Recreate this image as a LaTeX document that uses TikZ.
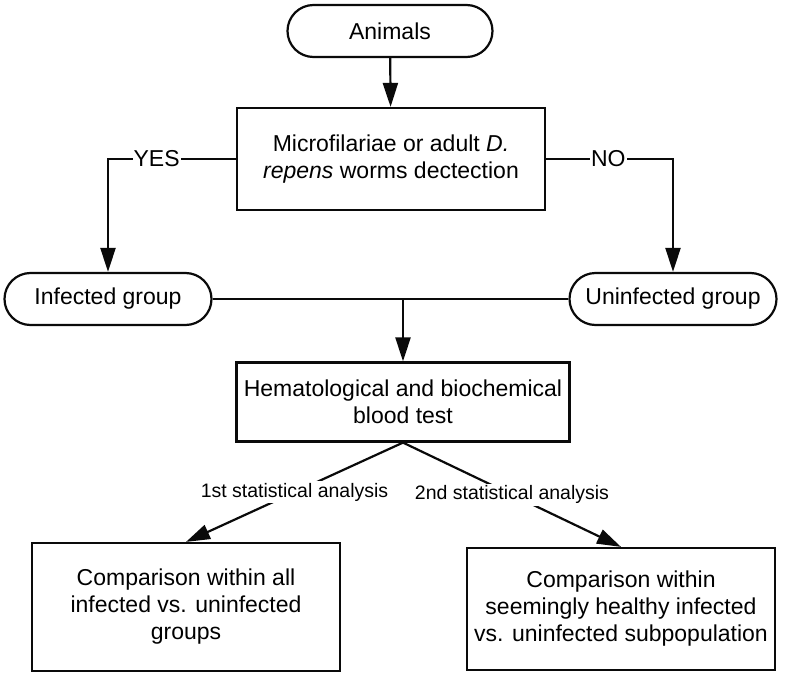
\documentclass[tikz,border=0pt]{standalone}
\usepackage{fontspec}
\setmainfont{Liberation Sans}
\usepackage{tikz}
\usetikzlibrary{arrows.meta, positioning, calc}
\definecolor{flowblack}{RGB}{10, 10, 10}

\begin{document}
\begin{tikzpicture}[x=1pt, y=-1pt, line width=2.2pt, draw=flowblack,
    flowarrow/.style={-{Triangle[length=24pt, width=15pt]}},
    terminal/.style={draw, rounded corners=26pt, minimum height=52pt, inner sep=0pt,
        font=\fontsize{23}{28}\selectfont},
    process/.style={draw, line width=2.2pt, align=center, inner sep=0pt,
        font=\fontsize{23}{27}\selectfont},
    branchlabel/.style={fill=white, inner sep=1pt, font=\fontsize{23}{26}\selectfont},
    statlabel/.style={fill=white, inner sep=2pt, font=\fontsize{19.5}{22}\selectfont}]
    % Page frame
    \useasboundingbox (0,0) rectangle (785,680);

    % Start
    \node[terminal, minimum width=205pt] (animals) at (390,31) {Animals};

    % Detection step
    \node[process, minimum width=308pt, minimum height=102pt] (detect) at (391,159)
        {Microfilariae or adult \textit{D.}\\ \textit{repens} worms dectection};

    % Groups
    \node[terminal, minimum width=207pt] (infected) at (108,299) {Infected group};
    \node[terminal, minimum width=207pt] (uninfected) at (673,299) {Uninfected group};

    % Blood test
    \node[process, minimum width=333pt, minimum height=79pt] (blood) at (403,402)
        {Hematological and biochemical\\ blood test};

    % Comparisons
    \node[process, minimum width=308pt, minimum height=128pt] (allcomp) at (186,607)
        {Comparison within all\\ infected vs. uninfected\\ groups};
    \node[process, minimum width=308pt, minimum height=122pt] (subcomp) at (621,609)
        {Comparison within\\ seemingly healthy infected\\ vs. uninfected subpopulation};

    % Connectors
    \draw[flowarrow] (animals) -- (detect);
    \draw[flowarrow] (detect.west) -- node[branchlabel, pos=0.62] {YES}
        (detect.west -| infected.north) -- (infected.north);
    \draw[flowarrow] (detect.east) -- node[branchlabel, pos=0.49] {NO}
        (detect.east -| uninfected.north) -- (uninfected.north);
    \draw (infected) -- (uninfected);
    \coordinate (merge) at (blood.north |- infected.east);
    \draw[flowarrow] (merge) -- (blood);
    \draw[flowarrow] (blood.south) -- node[statlabel, pos=0.5] {1st statistical analysis} (allcomp.north);
    \draw[flowarrow] (blood.south) -- node[statlabel, pos=0.5] {2nd statistical analysis} (subcomp.north);
\end{tikzpicture}
\end{document}
